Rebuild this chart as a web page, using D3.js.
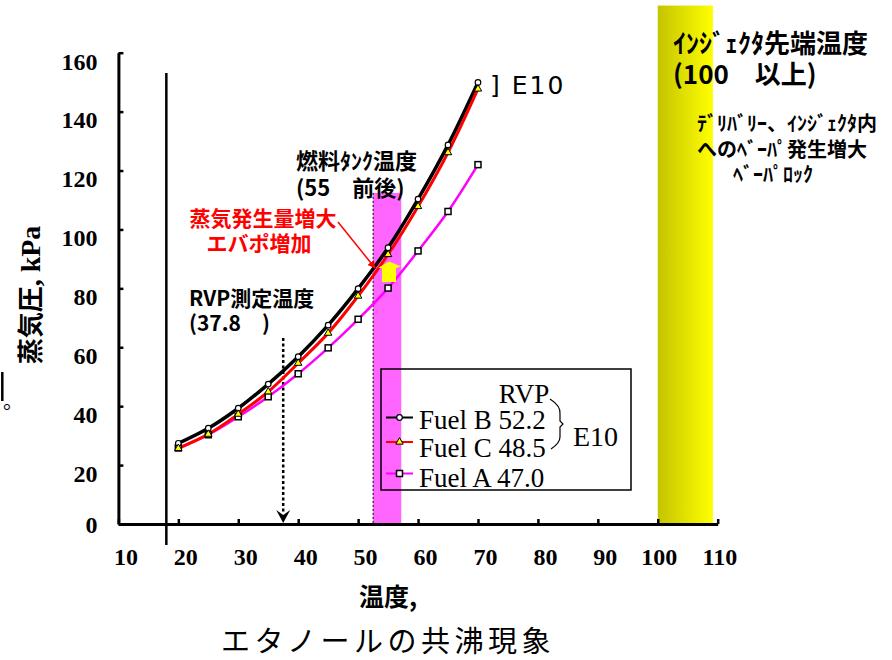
<!DOCTYPE html>
<html><head><meta charset="utf-8">
<script src="https://cdn.jsdelivr.net/npm/d3@7"></script>
<style>body{margin:0;background:#fff}svg{display:block}</style>
</head><body>
<svg id="c" width="892" height="660"></svg>
<script>
// ---- data ----
const temps = [20,25,30,35,40,45,50,55,60,65,70];
const fuelB = [27.4,32.5,39.3,47.5,56.8,67.5,79.9,93.8,110.3,128.7,149.9];
const fuelC = [25.7,30.5,37.3,44.9,54.6,64.8,77.4,91.5,107.8,126.1,147.7];
const fuelA = [25.8,30.3,36.4,43.2,51.0,59.8,69.5,80.1,92.7,106.1,122.0];
const xTicks = [10,20,30,40,50,60,70,80,90,100,110];
const yTicks = [0,20,40,60,80,100,120,140,160];
const legendNames = ["Fuel B","Fuel C","Fuel A"];
const rvpValues = ["52.2","48.5","47.0"];
const rvpTemp = 37.5;
const tankBand = [52.5,57.2];
const tankBandTop = 112.4;
const injectorBand = [100,109.2];
const injectorBandTop = 176;
const innerAxisAt = 18;

const serif = "'Liberation Serif','Times New Roman',serif";
const jp = "'Noto Sans CJK JP','Noto Sans',sans-serif";

const svg = d3.select("#c");
const x = d3.scaleLinear().domain([10,110]).range([118.4,717.7]);
const y = d3.scaleLinear().domain([0,160]).range([524,52.7]);

// defs
const defs = svg.append("defs");
const grad = defs.append("linearGradient").attr("id","yg").attr("x1","0").attr("x2","1").attr("y1","0").attr("y2","0");
grad.append("stop").attr("offset","0").attr("stop-color","#c4c400");
grad.append("stop").attr("offset","1").attr("stop-color","#ffff00");
defs.append("marker").attr("id","redArrow").attr("viewBox","0 0 10 10").attr("refX",9).attr("refY",5)
  .attr("markerWidth",8).attr("markerHeight",8).attr("markerUnits","userSpaceOnUse").attr("orient","auto")
  .append("path").attr("d","M0,0 L10,5 L0,10 Z").attr("fill","#ff0000");

// bands
svg.append("rect").attr("x",x(injectorBand[0])).attr("y",y(injectorBandTop))
  .attr("width",x(injectorBand[1])-x(injectorBand[0])).attr("height",y(0)-y(injectorBandTop)).attr("fill","url(#yg)");
svg.append("rect").attr("x",x(tankBand[0])).attr("y",y(tankBandTop))
  .attr("width",x(tankBand[1])-x(tankBand[0])).attr("height",y(0)-y(tankBandTop)).attr("fill","#ff66ff");
svg.append("line").attr("x1",x(tankBand[0])).attr("x2",x(tankBand[0])).attr("y1",y(tankBandTop)).attr("y2",y(0))
  .attr("stroke","#000").attr("stroke-width",1).attr("stroke-dasharray","2,2");

// axes
const yAxis = svg.append("g").attr("transform",`translate(${x(10)},0)`)
  .call(d3.axisLeft(y).tickValues(yTicks).tickSize(-5).tickSizeOuter(0));
yAxis.select(".domain").attr("stroke-width",3);
yAxis.selectAll(".tick line").attr("stroke-width",2.5);
yAxis.selectAll(".tick text").attr("font-family",serif).attr("font-weight","bold").attr("font-size",24)
  .attr("fill","#000").attr("x",-21).attr("dy",d=>d===0?"0.35em":"0.68em");

const xAxis = svg.append("g").attr("transform",`translate(0,${y(0)})`)
  .call(d3.axisBottom(x).tickValues(xTicks).tickSize(-5).tickSizeOuter(0));
xAxis.select(".domain").attr("stroke-width",3);
xAxis.selectAll(".tick line").attr("stroke-width",2.5);
xAxis.selectAll(".tick text").attr("font-family",serif).attr("font-weight","bold").attr("font-size",24)
  .attr("fill","#000").attr("text-anchor","end").attr("x",19).attr("y",41).attr("dy",0);

// inner vertical line
svg.append("line").attr("x1",x(innerAxisAt)).attr("x2",x(innerAxisAt)).attr("y1",73).attr("y2",545)
  .attr("stroke","#000").attr("stroke-width",2.5);

// dotted RVP arrow
svg.append("line").attr("x1",x(rvpTemp)).attr("x2",x(rvpTemp)).attr("y1",338).attr("y2",514)
  .attr("stroke","#000").attr("stroke-width",2.5).attr("stroke-dasharray","3,2.5");
const ax = x(rvpTemp);
svg.append("path").attr("d",`M${ax-7},510 L${ax},523 L${ax+7},510 L${ax},515 Z`).attr("fill","#000");

// curves
const series = [
  {vals:fuelA,color:"#ff00ff",w:2.5,mk:"square"},
  {vals:fuelB,color:"#000000",w:3.5,mk:"circle"},
  {vals:fuelC,color:"#ff0000",w:3,mk:"triangle"}
];
const line = d3.line().x((d,i)=>x(temps[i])).y(d=>y(d)).curve(d3.curveCatmullRom.alpha(0.5));
series.forEach(s=>{
  svg.append("path").attr("d",line(s.vals)).attr("fill","none").attr("stroke",s.color).attr("stroke-width",s.w);
});
function drawMarker(g,type,cx,cy){
  if(type==="circle") g.append("circle").attr("cx",cx).attr("cy",cy).attr("r",2.8).attr("fill","#fff").attr("stroke","#000").attr("stroke-width",1.2);
  else if(type==="square") g.append("rect").attr("x",cx-3).attr("y",cy-3).attr("width",6).attr("height",6).attr("fill","#fff").attr("stroke","#000").attr("stroke-width",1.5);
  else g.append("path").attr("transform",`translate(${cx},${cy})`).attr("d",d3.symbol(d3.symbolTriangle).size(24)()).attr("fill","#ffff00").attr("stroke","#000").attr("stroke-width",1);
}
series.forEach(s=>{
  const g = svg.append("g");
  s.vals.forEach((v,i)=>drawMarker(g,s.mk,x(temps[i]),y(v)));
});

// yellow block arrow
svg.append("path").attr("d","M382,282 L382,268 L378,268 L389,261.5 L401,266.5 L396,268 L396,282 Z").attr("fill","#ffff00");

// red arrow line
svg.append("line").attr("x1",338).attr("y1",222).attr("x2",375).attr("y2",268)
  .attr("stroke","#ff0000").attr("stroke-width",1.5).attr("marker-end","url(#redArrow)");

// annotations
function txt(t,xx,yy,opts={}){
  return svg.append("text").attr("x",xx).attr("y",yy).text(t)
    .attr("font-family",opts.family||jp).attr("font-weight",opts.weight||"bold")
    .attr("font-size",opts.size||21).attr("fill",opts.fill||"#000")
    .attr("text-anchor",opts.anchor||"start").attr("letter-spacing",opts.ls||0);
}
txt("燃料ﾀﾝｸ温度",296,169,{size:22});
txt("(55　前後)",296,196,{size:22});
txt("蒸気発生量増大",263,226,{size:21,fill:"#ff0000",anchor:"middle"});
txt("エバポ増加",259,251,{size:21,fill:"#ff0000",anchor:"middle"});
txt("RVP測定温度",189,306,{size:21});
txt("(37.8　)",189,331,{size:21});
txt("ｲﾝｼﾞｪｸﾀ先端温度",673,53,{size:26});
txt("(100　以上)",673,84,{size:26});
txt("ﾃﾞﾘﾊﾞﾘｰ、ｲﾝｼﾞｪｸﾀ内",697,131,{size:20});
txt("へのﾍﾞｰﾊﾟ発生増大",697,157,{size:20});
txt("ﾍﾞｰﾊﾟﾛｯｸ",733,182,{size:20});
txt("] E10",490,94,{family:"'DejaVu Sans',sans-serif",weight:"normal",size:25,ls:2});

// legend
svg.append("rect").attr("x",381).attr("y",369).attr("width",250).attr("height",121)
  .attr("fill","none").attr("stroke","#000").attr("stroke-width",1.5);
txt("RVP",524,403,{family:serif,weight:"normal",size:27,anchor:"middle"});
const legY = [417.5,442,473.5];
const legBase = [429,456.5,486.5];
const legSeries = [series[1],series[2],series[0]];
legSeries.forEach((s,i)=>{
  svg.append("line").attr("x1",386).attr("x2",413).attr("y1",legY[i]).attr("y2",legY[i])
    .attr("stroke",s.color).attr("stroke-width",2);
  drawMarker(svg,s.mk,399.5,legY[i]);
  txt(legendNames[i]+" "+rvpValues[i],419,legBase[i],{family:serif,weight:"normal",size:27});
});
svg.append("path").attr("d","M550,399 Q561,406 560,414 L560,421 L563,424 L560,427 L560,437 Q560,443 551,449")
  .attr("fill","none").attr("stroke","#000").attr("stroke-width",1.2);
txt("E10",573,446,{family:serif,weight:"normal",size:28});

// axis titles
const yt = svg.append("text").attr("transform","translate(40,295) rotate(-90)").attr("text-anchor","middle")
  .attr("font-weight","bold").attr("fill","#000");
yt.append("tspan").attr("font-family",jp).attr("font-size",26).text("蒸気圧");
yt.append("tspan").attr("font-family",serif).attr("font-size",28).text(", kPa");
txt("温度,",359,606,{size:25});
txt("エタノールの共沸現象",388,652,{weight:"normal",size:29,anchor:"middle",ls:4.5});

// stray marks at left edge
svg.append("line").attr("x1",2.3).attr("x2",2.3).attr("y1",372).attr("y2",401).attr("stroke","#000").attr("stroke-width",2.5);
txt("。",3,409,{weight:"normal",size:20});
</script>
</body></html>
